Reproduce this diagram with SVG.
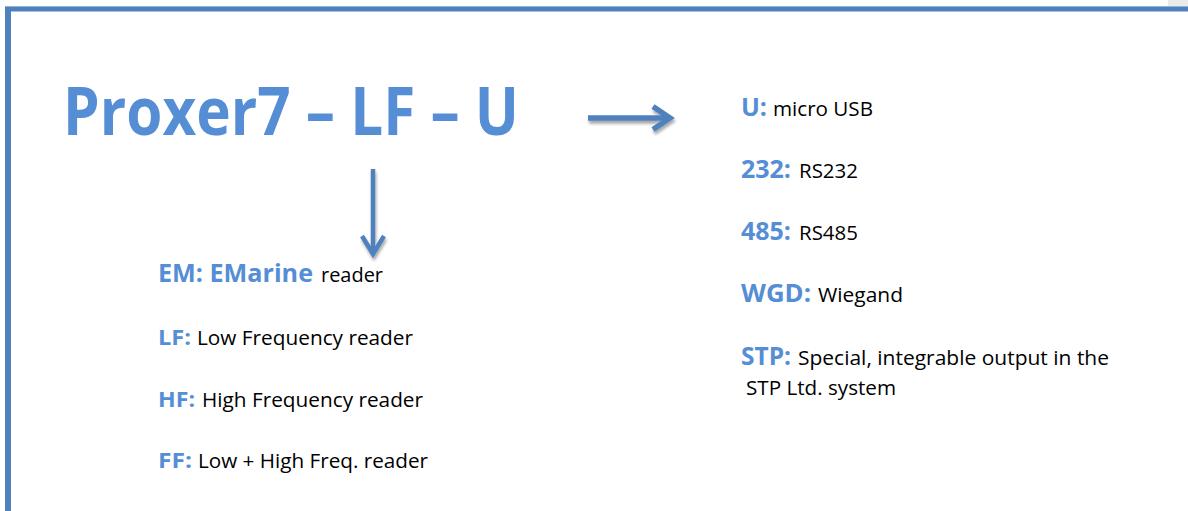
<svg xmlns="http://www.w3.org/2000/svg" width="1188" height="511" viewBox="0 0 1188 511">
<defs>
<style>
.lbl{font-family:"Open Sans","Liberation Sans",sans-serif;font-weight:bold;fill:#558ED5}
.txt{font-family:"Open Sans","Liberation Sans",sans-serif;fill:#000;font-size:20px}
.arr{stroke:#4F81BD;fill:none;stroke-linecap:butt;stroke-linejoin:miter}
</style>
<filter id="sh" x="-20%" y="-20%" width="140%" height="160%">
<feGaussianBlur in="SourceAlpha" stdDeviation="1.5"/>
<feOffset dx="1" dy="3" result="b"/>
<feComponentTransfer><feFuncA type="linear" slope="0.35"/></feComponentTransfer>
<feMerge><feMergeNode/><feMergeNode in="SourceGraphic"/></feMerge>
</filter>
</defs>
<rect width="1188" height="511" fill="#fff"/>
<rect x="1168" y="0" width="20" height="6" fill="#EBEBEB"/>
<rect x="5" y="6" width="1183" height="1" fill="#95B3D7"/>
<rect x="5" y="7" width="1183" height="4.5" fill="#4F81BD"/>
<rect x="5" y="7" width="6" height="504" fill="#4F81BD"/>

<g id="title">
<text class="lbl" x="63" y="135" font-size="66" textLength="456" lengthAdjust="spacingAndGlyphs">Proxer7 – LF – U</text>
</g>

<g id="connectors" filter="url(#sh)">
<line class="arr" x1="588" y1="118" x2="666" y2="118" stroke-width="5.5"/>
<polyline class="arr" points="653,106.5 670,118 653,129.5" stroke-width="5.5"/>
<line class="arr" x1="373" y1="169" x2="373" y2="251" stroke-width="4.5"/>
<polyline class="arr" points="362,236 373,254 384,236" stroke-width="4.5"/>
</g>

<g id="em">
<text class="lbl" x="158" y="282" font-size="25" textLength="155" lengthAdjust="spacingAndGlyphs">EM: EMarine</text>
<text class="txt" x="321" y="282" textLength="62" lengthAdjust="spacingAndGlyphs">reader</text>
</g>
<g id="lf">
<text class="lbl" x="158" y="345" font-size="22" textLength="33" lengthAdjust="spacingAndGlyphs">LF:</text>
<text class="txt" x="197" y="345" textLength="216" lengthAdjust="spacingAndGlyphs">Low Frequency reader</text>
</g>
<g id="hf">
<text class="lbl" x="158" y="407" font-size="22" textLength="37" lengthAdjust="spacingAndGlyphs">HF:</text>
<text class="txt" x="202" y="407" textLength="221" lengthAdjust="spacingAndGlyphs">High Frequency reader</text>
</g>
<g id="ff">
<text class="lbl" x="158" y="468" font-size="22" textLength="34" lengthAdjust="spacingAndGlyphs">FF:</text>
<text class="txt" x="198" y="468" textLength="230" lengthAdjust="spacingAndGlyphs">Low + High Freq. reader</text>
</g>

<g id="u">
<text class="lbl" x="741" y="116" font-size="25" textLength="26" lengthAdjust="spacingAndGlyphs">U:</text>
<text class="txt" x="773" y="116" textLength="100" lengthAdjust="spacingAndGlyphs">micro USB</text>
</g>
<g id="rs232">
<text class="lbl" x="741" y="178" font-size="25" textLength="50" lengthAdjust="spacingAndGlyphs">232:</text>
<text class="txt" x="799" y="178" textLength="59" lengthAdjust="spacingAndGlyphs">RS232</text>
</g>
<g id="rs485">
<text class="lbl" x="741" y="240" font-size="25" textLength="50" lengthAdjust="spacingAndGlyphs">485:</text>
<text class="txt" x="799" y="240" textLength="59" lengthAdjust="spacingAndGlyphs">RS485</text>
</g>
<g id="wgd">
<text class="lbl" x="741" y="302" font-size="25" textLength="70" lengthAdjust="spacingAndGlyphs">WGD:</text>
<text class="txt" x="818" y="302" textLength="85" lengthAdjust="spacingAndGlyphs">Wiegand</text>
</g>
<g id="stp">
<text class="lbl" x="741" y="365" font-size="25" textLength="50" lengthAdjust="spacingAndGlyphs">STP:</text>
<text class="txt" x="798" y="365" textLength="311" lengthAdjust="spacingAndGlyphs">Special, integrable output in the</text>
<text class="txt" x="746" y="395" textLength="150" lengthAdjust="spacingAndGlyphs">STP Ltd. system</text>
</g>
</svg>
